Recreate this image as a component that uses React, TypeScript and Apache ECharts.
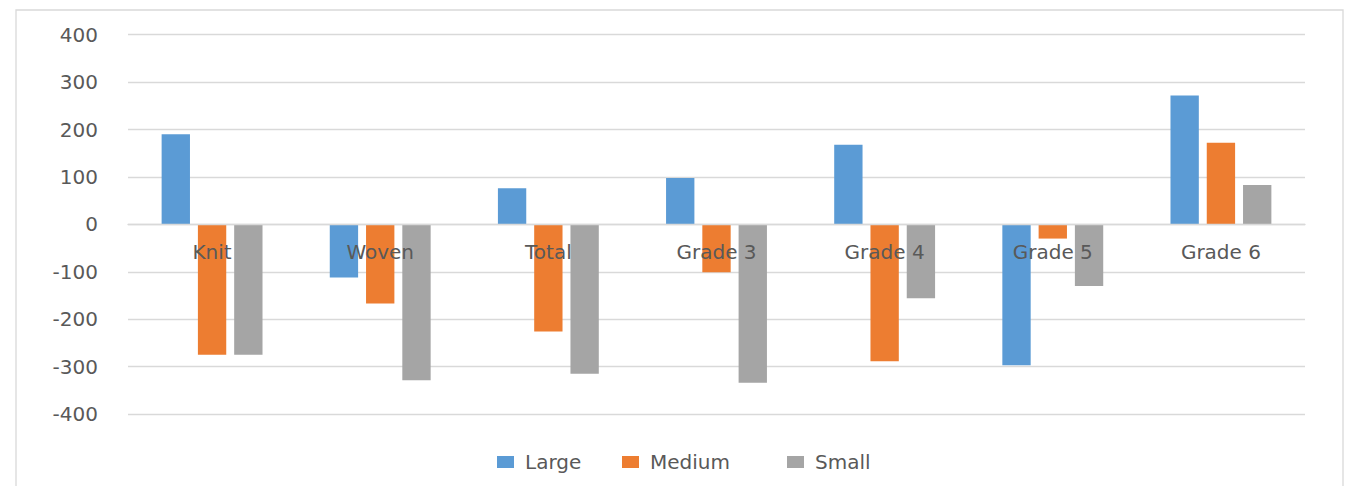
import React, { useEffect, useRef } from "react";
import * as echarts from "echarts";

const categories = ["Knit", "Woven", "Total", "Grade 3", "Grade 4", "Grade 5", "Grade 6"];
const largeValues = [190, -112, 76, 98, 168, -297, 272];
const mediumValues = [-275, -167, -226, -101, -289, -30, 172];
const smallValues = [-275, -329, -315, -334, -156, -130, 83];
const seriesNames = ["Large", "Medium", "Small"];
const seriesColors = ["#5B9BD5", "#ED7D31", "#A5A5A5"];
const yTicks = { min: -400, max: 400, interval: 100 };

const FONT = "DejaVu Sans";
const GRID_TOP = 34.7;
const GRID_BOTTOM = 72;
const H = 486;

export default function App() {
  const ref = useRef<HTMLDivElement>(null);
  useEffect(() => {
    if (!ref.current) return;
    const chart = echarts.init(ref.current, undefined, { renderer: "svg" });
    const data = [largeValues, mediumValues, smallValues];
    const plotH = H - GRID_TOP - GRID_BOTTOM;
    // distance from bottom of plot to zero line
    const zeroOffset = (plotH * (0 - yTicks.min)) / (yTicks.max - yTicks.min);
    const legendLefts = [492, 617, 782];
    chart.setOption({
      animation: false,
      backgroundColor: "#ffffff",
      grid: { left: 128, right: 43, top: GRID_TOP, bottom: GRID_BOTTOM, containLabel: false },
      graphic: [
        {
          type: "rect",
          shape: { x: 16, y: 10, width: 1327, height: 520 },
          style: { fill: "none", stroke: "#d9d9d9", lineWidth: 1.3 },
          silent: true,
        },
      ],
      legend: seriesNames.map((name, i) => ({
        data: [name],
        left: legendLefts[i],
        top: 447,
        itemWidth: 17,
        itemHeight: 12,
        icon: "rect",
        textStyle: { fontFamily: FONT, fontSize: 20, color: "#595959", padding: [0, 0, 0, 6] },
      })),
      xAxis: {
        type: "category",
        data: categories,
        position: "bottom",
        offset: -zeroOffset,
        z: 10,
        axisLine: { show: true, onZero: false, lineStyle: { color: "#d9d9d9", width: 1.3 } },
        axisTick: { show: false },
        axisLabel: { fontFamily: FONT, fontSize: 20, color: "#595959", margin: 18 },
      },
      yAxis: {
        type: "value",
        min: yTicks.min,
        max: yTicks.max,
        interval: yTicks.interval,
        axisLine: { show: false },
        axisTick: { show: false },
        splitLine: { lineStyle: { color: "#d9d9d9", width: 1.3 } },
        axisLabel: { fontFamily: FONT, fontSize: 20, color: "#595959", margin: 30 },
      },
      series: seriesNames.map((name, i) => ({
        name,
        type: "bar",
        data: data[i],
        z: 2,
        barGap: "28%",
        barCategoryGap: "40%",
        itemStyle: { color: seriesColors[i] },
      })),
    });
    return () => chart.dispose();
  }, []);
  return <div ref={ref} style={{ position: "fixed", left: 0, top: 0, width: 1348, height: 486 }} />;
}
